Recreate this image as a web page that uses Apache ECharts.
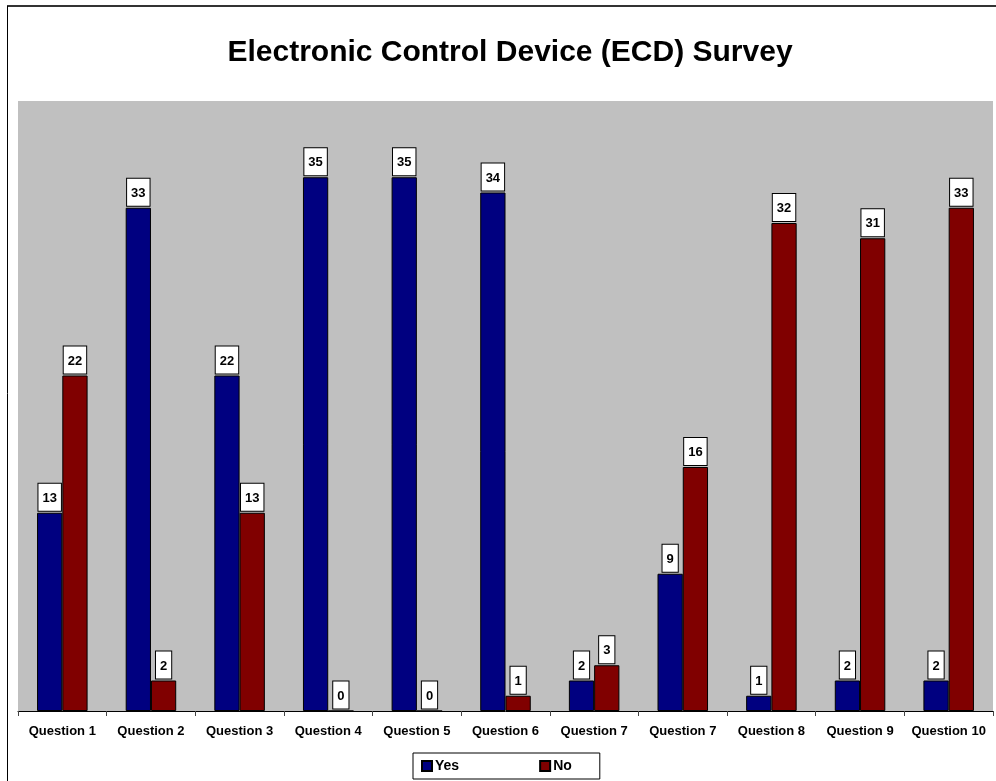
<!DOCTYPE html>
<html>
<head>
<meta charset="utf-8">
<style>
  html, body { margin: 0; padding: 0; background: #ffffff; }
  #chart { width: 996px; height: 781px; }
</style>
<script src="https://cdn.jsdelivr.net/npm/echarts@6/dist/echarts.min.js"></script>
</head>
<body>
<div id="chart"></div>
<script>
// Survey answers per question
const categories = ['Question 1', 'Question 2', 'Question 3', 'Question 4', 'Question 5',
  'Question 6', 'Question 7', 'Question 7', 'Question 8', 'Question 9', 'Question 10'];
const yesValues = [13, 33, 22, 35, 35, 34, 2, 9, 1, 2, 2];
const noValues = [22, 2, 13, 0, 0, 1, 3, 16, 32, 31, 33];

const chart = echarts.init(document.getElementById('chart'), null, { renderer: 'canvas' });

const FONT = 'Liberation Sans, Arial, sans-serif';

const valueLabel = {
  show: true,
  position: 'top',
  distance: 2,
  color: '#000',
  fontFamily: FONT,
  fontWeight: 'bold',
  fontSize: 13,
  backgroundColor: '#ffffff',
  borderColor: '#000',
  borderWidth: 1,
  padding: [8, 4, 6, 4]
};

chart.setOption({
  animation: false,
  backgroundColor: '#ffffff',
  title: {
    text: 'Electronic Control Device (ECD) Survey',
    left: 505, top: 33, textAlign: 'center',
    textStyle: { fontFamily: FONT, fontWeight: 'bold', fontSize: 30, color: '#000' }
  },
  graphic: [
    { type: 'line', shape: { x1: 7, y1: 6, x2: 996, y2: 6 }, style: { stroke: '#333', lineWidth: 2 } },
    { type: 'line', shape: { x1: 7.5, y1: 6, x2: 7.5, y2: 781 }, style: { stroke: '#000', lineWidth: 1 } }
  ],
  legend: {
    left: 413, top: 753,
    data: ['Yes', 'No'],
    itemWidth: 10, itemHeight: 10, itemGap: 80,
    icon: 'rect',
    borderColor: '#000', borderWidth: 1,
    padding: [6, 28, 6, 8],
    backgroundColor: '#fff',
    textStyle: { fontFamily: FONT, fontWeight: 'bold', fontSize: 14, color: '#000', padding: [0, 0, 0, -2] }
  },
  grid: { left: 18, right: 3, top: 101, bottom: 70, show: true, backgroundColor: '#c0c0c0', borderWidth: 0 },
  xAxis: {
    type: 'category',
    data: categories,
    axisLine: { lineStyle: { color: '#000', width: 1 } },
    axisTick: { show: true, length: 5, lineStyle: { color: '#444' } },
    axisLabel: { fontFamily: FONT, fontWeight: 'bold', fontSize: 13, color: '#000', margin: 14, interval: 0 }
  },
  yAxis: {
    type: 'value', min: 0, max: 40, interval: 5,
    show: false,
    splitLine: { show: false }
  },
  series: [
    {
      name: 'Yes', type: 'bar', data: yesValues,
      barGap: 0, barCategoryGap: '43%',
      itemStyle: { color: '#000080', borderColor: '#000', borderWidth: 1 },
      label: valueLabel
    },
    {
      name: 'No', type: 'bar', data: noValues,
      barGap: 0, barCategoryGap: '43%',
      itemStyle: { color: '#800000', borderColor: '#000', borderWidth: 1 },
      label: valueLabel
    }
  ]
});
</script>
</body>
</html>
